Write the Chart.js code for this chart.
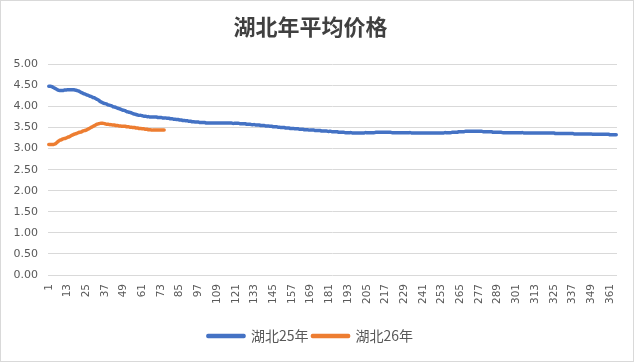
<!DOCTYPE html>
<html>
<head>
<meta charset="utf-8">
<script src="https://cdn.jsdelivr.net/npm/chart.js@4"></script>
<style>
  html, body { margin: 0; padding: 0; background: #fff; }
  #wrap { width: 635px; height: 362px; }
</style>
</head>
<body>
<div id="wrap"><canvas id="chart" width="635" height="362"></canvas></div>
<script>
  // 日序号 1..365
  const days = Array.from({ length: 365 }, (_, i) => String(i + 1));
  const tickStep = 12;
  const yTicks = [0, 0.5, 1, 1.5, 2, 2.5, 3, 3.5, 4, 4.5, 5];

  const hubei25 = [
    4.48, 4.48, 4.47, 4.45, 4.43, 4.41, 4.39, 4.38, 4.38, 4.38,
    4.39, 4.39, 4.40, 4.40, 4.40, 4.40, 4.40, 4.39, 4.38, 4.37,
    4.35, 4.33, 4.31, 4.30, 4.28, 4.27, 4.25, 4.24, 4.22, 4.21,
    4.19, 4.17, 4.15, 4.12, 4.10, 4.08, 4.07, 4.06, 4.04, 4.03,
    4.02, 4.00, 3.99, 3.98, 3.96, 3.95, 3.94, 3.92, 3.91, 3.90,
    3.88, 3.87, 3.86, 3.85, 3.83, 3.82, 3.81, 3.80, 3.79, 3.79,
    3.78, 3.77, 3.77, 3.76, 3.76, 3.75, 3.75, 3.75, 3.75, 3.75,
    3.74, 3.74, 3.74, 3.73, 3.73, 3.73, 3.72, 3.72, 3.71, 3.71,
    3.70, 3.70, 3.69, 3.69, 3.68, 3.68, 3.67, 3.67, 3.66, 3.66,
    3.65, 3.65, 3.64, 3.64, 3.63, 3.63, 3.63, 3.62, 3.62, 3.62,
    3.62, 3.61, 3.61, 3.61, 3.61, 3.61, 3.61, 3.61, 3.61, 3.61,
    3.61, 3.61, 3.61, 3.61, 3.61, 3.61, 3.61, 3.61, 3.60, 3.60,
    3.60, 3.60, 3.60, 3.59, 3.59, 3.59, 3.59, 3.58, 3.58, 3.58,
    3.57, 3.57, 3.57, 3.56, 3.56, 3.56, 3.55, 3.55, 3.55, 3.54,
    3.54, 3.54, 3.53, 3.53, 3.52, 3.52, 3.52, 3.51, 3.51, 3.50,
    3.50, 3.50, 3.49, 3.49, 3.49, 3.48, 3.48, 3.48, 3.47, 3.47,
    3.47, 3.46, 3.46, 3.46, 3.45, 3.45, 3.45, 3.44, 3.44, 3.44,
    3.44, 3.43, 3.43, 3.43, 3.43, 3.42, 3.42, 3.42, 3.42, 3.41,
    3.41, 3.41, 3.40, 3.40, 3.40, 3.40, 3.39, 3.39, 3.39, 3.39,
    3.38, 3.38, 3.38, 3.38, 3.38, 3.37, 3.37, 3.37, 3.37, 3.37,
    3.37, 3.37, 3.37, 3.38, 3.38, 3.38, 3.38, 3.38, 3.38, 3.38,
    3.39, 3.39, 3.39, 3.39, 3.39, 3.39, 3.39, 3.39, 3.39, 3.39,
    3.38, 3.38, 3.38, 3.38, 3.38, 3.38, 3.38, 3.38, 3.38, 3.38,
    3.38, 3.38, 3.38, 3.37, 3.37, 3.37, 3.37, 3.37, 3.37, 3.37,
    3.37, 3.37, 3.37, 3.37, 3.37, 3.37, 3.37, 3.37, 3.37, 3.37,
    3.37, 3.37, 3.37, 3.37, 3.38, 3.38, 3.38, 3.38, 3.38, 3.39,
    3.39, 3.39, 3.39, 3.40, 3.40, 3.40, 3.40, 3.41, 3.41, 3.41,
    3.41, 3.41, 3.41, 3.41, 3.41, 3.41, 3.41, 3.41, 3.41, 3.40,
    3.40, 3.40, 3.40, 3.40, 3.40, 3.39, 3.39, 3.39, 3.39, 3.39,
    3.39, 3.38, 3.38, 3.38, 3.38, 3.38, 3.38, 3.38, 3.38, 3.38,
    3.38, 3.38, 3.38, 3.38, 3.38, 3.37, 3.37, 3.37, 3.37, 3.37,
    3.37, 3.37, 3.37, 3.37, 3.37, 3.37, 3.37, 3.37, 3.37, 3.37,
    3.37, 3.37, 3.37, 3.37, 3.37, 3.36, 3.36, 3.36, 3.36, 3.36,
    3.36, 3.36, 3.36, 3.36, 3.36, 3.36, 3.36, 3.35, 3.35, 3.35,
    3.35, 3.35, 3.35, 3.35, 3.35, 3.35, 3.35, 3.35, 3.35, 3.34,
    3.34, 3.34, 3.34, 3.34, 3.34, 3.34, 3.34, 3.34, 3.34, 3.34,
    3.33, 3.33, 3.33, 3.33, 3.33
  ];

  const hubei26 = [
    3.10, 3.10, 3.10, 3.10, 3.11, 3.14, 3.17, 3.20, 3.21, 3.23,
    3.24, 3.25, 3.27, 3.28, 3.30, 3.32, 3.34, 3.35, 3.36, 3.38,
    3.39, 3.40, 3.42, 3.43, 3.44, 3.46, 3.48, 3.50, 3.52, 3.54,
    3.56, 3.58, 3.59, 3.60, 3.60, 3.60, 3.59, 3.58, 3.58, 3.57,
    3.57, 3.56, 3.56, 3.55, 3.55, 3.54, 3.54, 3.53, 3.53, 3.53,
    3.52, 3.52, 3.51, 3.51, 3.50, 3.50, 3.49, 3.49, 3.48, 3.48,
    3.47, 3.47, 3.46, 3.46, 3.45, 3.45, 3.44, 3.44, 3.44, 3.44,
    3.44, 3.44, 3.44, 3.44, 3.44
  ];

  const BLUE = '#4472C4';
  const ORANGE = '#ED7D31';
  const TXT = '#595959';
  const GRID = '#d9d9d9';
  const numFont = 'DejaVu Sans';
  const cjkFont = '"Noto Sans CJK SC", "Noto Sans", sans-serif';

  // 外框
  const frame = {
    id: 'frame',
    afterDraw(chart) {
      const c = chart.ctx;
      c.save();
      c.strokeStyle = GRID;
      c.lineWidth = 1;
      c.strokeRect(0.5, 0.5, chart.width - 2, chart.height - 1);
      c.restore();
    }
  };

  const line = (label, data, color) => ({
    label, data,
    borderColor: color, backgroundColor: color,
    borderWidth: 3.5, pointRadius: 0, tension: 0.2,
    borderCapStyle: 'round', borderJoinStyle: 'round'
  });

  new Chart(document.getElementById('chart').getContext('2d'), {
    type: 'line',
    data: {
      labels: days,
      datasets: [line('湖北25年', hubei25, BLUE), line('湖北26年', hubei26, ORANGE)]
    },
    options: {
      responsive: false,
      animation: false,
      layout: { padding: { left: 4, right: 18, top: 0, bottom: 9 } },
      plugins: {
        title: {
          display: true,
          text: '湖北年平均价格',
          color: '#404040',
          font: { family: cjkFont, size: 22, weight: 'bold' },
          padding: { top: 13, bottom: 25 }
        },
        legend: {
          position: 'bottom',
          labels: {
            color: TXT, boxWidth: 36, boxHeight: 1, padding: 4,
            font: { family: cjkFont, size: 14 }
          }
        },
        tooltip: { enabled: false }
      },
      scales: {
        x: {
          offset: true,
          grid: { display: false, drawTicks: false },
          border: { display: false },
          ticks: {
            autoSkip: false, maxRotation: 90, minRotation: 90, padding: 9,
            color: TXT, font: { family: numFont, size: 10.5 },
            callback: (v, i) => (i % tickStep === 0 ? days[i] : null)
          },
          afterFit: s => { s.height = 50; }
        },
        y: {
          min: 0, max: 5,
          afterBuildTicks: s => { s.ticks = yTicks.map(v => ({ value: v })); },
          grid: { color: GRID, drawTicks: false },
          border: { display: false },
          ticks: {
            color: TXT, padding: 10, font: { family: numFont, size: 11 },
            callback: v => Number(v).toFixed(2)
          },
          afterFit: s => { s.width = 44; }
        }
      }
    },
    plugins: [frame]
  });
</script>
</body>
</html>
